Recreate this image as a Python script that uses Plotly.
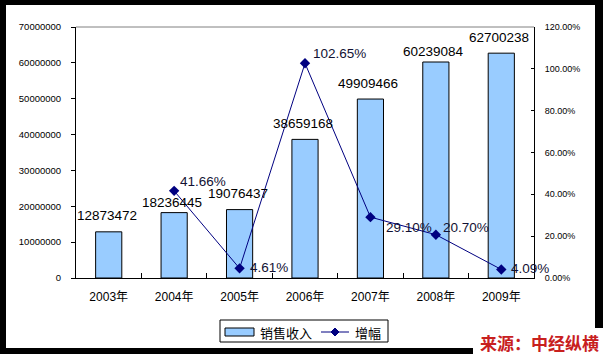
import plotly.graph_objects as go

# ---- data ----
years = ["2003年", "2004年", "2005年", "2006年", "2007年", "2008年", "2009年"]
sales = [12873472, 18236445, 19076437, 38659168, 49909466, 60239084, 62700238]
growth_years = ["2004年", "2005年", "2006年", "2007年", "2008年", "2009年"]
growth = [0.4166, 0.0461, 1.0265, 0.2910, 0.2070, 0.0409]
growth_labels = ["41.66%", "4.61%", "102.65%", "29.10%", "20.70%", "4.09%"]
legend_names = ["销售收入", "增幅"]
source_text = "来源：中经纵横"

# ---- style ----
W, H = 603, 354
L, R, T, B = 76, 534, 27, 278
FONT = "Arial, 'Liberation Sans', 'Noto Sans CJK SC', sans-serif"
CJK = "'Noto Sans CJK SC', 'Liberation Sans', sans-serif"
BAR_COLOR = "#99CCFF"
LINE_COLOR = "#000080"

bar_label_yshift = [16, 10, 16, 16, 16, 11, 16]
growth_label_shift = [(4, 9), (8, 1), (6, 10), (14, -10), (5, 7), (8, 1)]


def px(x):
    return (x - L) / (R - L)


def py(y):
    return (B - y) / (B - T)


fig = go.Figure()
fig.add_trace(go.Bar(
    x=years, y=sales, width=0.4,
    marker=dict(color=BAR_COLOR, line=dict(color="black", width=1)),
    name=legend_names[0], showlegend=False, hoverinfo="x+y",
))
fig.add_trace(go.Scatter(
    x=growth_years, y=growth, yaxis="y2", mode="lines+markers",
    line=dict(color=LINE_COLOR, width=1),
    marker=dict(symbol="diamond", size=8, color=LINE_COLOR),
    name=legend_names[1], showlegend=False,
))

annotations = []
for yr, v, ys in zip(years, sales, bar_label_yshift):
    annotations.append(dict(
        x=yr, y=v, xref="x", yref="y", text=str(v), showarrow=False,
        xanchor="center", yanchor="middle", xshift=-2, yshift=ys,
        font=dict(family=FONT, size=13.5, color="black"),
    ))
for yr, g, lab, (xs, ys) in zip(growth_years, growth, growth_labels, growth_label_shift):
    annotations.append(dict(
        x=yr, y=g, xref="x", yref="y2", text=lab, showarrow=False,
        xanchor="left", yanchor="middle", xshift=xs, yshift=ys,
        font=dict(family=FONT, size=13.5, color="#111133"),
    ))

# manual legend texts
annotations.append(dict(
    x=px(258), y=py(332), xref="paper", yref="paper", text=legend_names[0],
    showarrow=False, xanchor="left", yanchor="middle",
    font=dict(family=CJK, size=13, color="black"),
))
annotations.append(dict(
    x=px(353), y=py(332), xref="paper", yref="paper", text=legend_names[1],
    showarrow=False, xanchor="left", yanchor="middle",
    font=dict(family=CJK, size=13, color="black"),
))
# source text
annotations.append(dict(
    x=px(478), y=py(342), xref="paper", yref="paper",
    text="<b>" + source_text + "</b>",
    showarrow=False, xanchor="left", yanchor="middle",
    font=dict(family=CJK, size=17, color="#C8201E"),
))

shapes = [
    # white chart area over black border
    dict(type="rect", xref="paper", yref="paper", layer="below",
         x0=px(6), x1=px(595), y0=py(348), y1=py(5),
         fillcolor="white", line=dict(width=0)),
    dict(type="rect", xref="paper", yref="paper", layer="below",
         x0=px(473), x1=px(603), y0=py(354), y1=py(328),
         fillcolor="white", line=dict(width=0)),
    # top plot border
    dict(type="line", xref="paper", yref="paper", x0=0, x1=1, y0=1, y1=1,
         line=dict(color="#808080", width=1)),
    # legend box
    dict(type="rect", xref="paper", yref="paper",
         x0=px(220), x1=px(388), y0=py(342), y1=py(320),
         fillcolor="white", line=dict(color="black", width=1)),
    dict(type="rect", xref="paper", yref="paper",
         x0=px(225), x1=px(254), y0=py(336), y1=py(328),
         fillcolor=BAR_COLOR, line=dict(color="black", width=1)),
    dict(type="line", xref="paper", yref="paper",
         x0=px(321), x1=px(349), y0=py(332), y1=py(332),
         line=dict(color=LINE_COLOR, width=1)),
    dict(type="path", xref="paper", yref="paper",
         path="M {},{} L {},{} L {},{} L {},{} Z".format(
             px(335), py(328), px(339), py(332), px(335), py(336), px(331), py(332)),
         fillcolor=LINE_COLOR, line=dict(color=LINE_COLOR, width=1)),
]

fig.update_layout(
    width=W, height=H, autosize=False,
    margin=dict(l=L, r=W - R, t=T, b=H - B, pad=0),
    paper_bgcolor="black", plot_bgcolor="white",
    font=dict(family=FONT, color="black"),
    showlegend=False,
    bargap=0.6,
    xaxis=dict(
        type="category", categoryorder="array", categoryarray=years,
        range=[-0.5, 6.5], showline=True, linecolor="black", linewidth=1,
        ticks="inside", tickson="boundaries", ticklen=5, tickcolor="black",
        showgrid=False, zeroline=False, ticklabelstandoff=8,
        tickfont=dict(family=FONT, size=12, color="black"),
    ),
    yaxis=dict(
        range=[0, 70000000], dtick=10000000, tickformat="d",
        showline=True, linecolor="black", linewidth=1,
        ticks="outside", ticklen=4, tickcolor="black",
        showgrid=False, zeroline=False, ticklabelstandoff=8,
        tickfont=dict(family=FONT, size=9.5, color="black"),
    ),
    yaxis2=dict(
        overlaying="y", side="right", range=[0, 1.2], dtick=0.2,
        tickformat=".2%", showline=True, linecolor="black", linewidth=1,
        ticks="inside", ticklen=3, tickcolor="black",
        showgrid=False, zeroline=False, ticklabelstandoff=8,
        tickfont=dict(family=FONT, size=9, color="black"),
    ),
    annotations=annotations,
    shapes=shapes,
)

fig.write_html("out.html")
